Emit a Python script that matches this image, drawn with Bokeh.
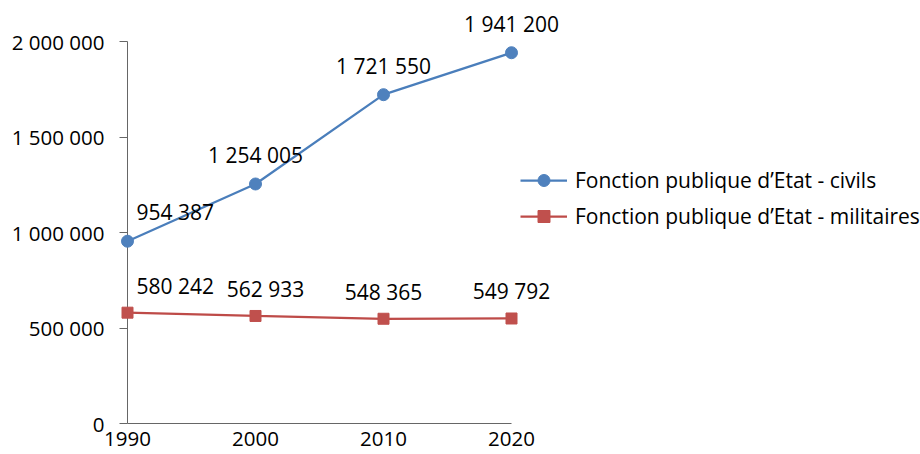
from bokeh.plotting import figure
from bokeh.models import (ColumnDataSource, Legend, LegendItem,
                          FixedTicker, Range1d)
from bokeh.core.properties import value
from bokeh.embed import file_html
from bokeh.resources import INLINE

years = [1990, 2000, 2010, 2020]
civils = [954387, 1254005, 1721550, 1941200]
militaires = [580242, 562933, 548365, 549792]
y_ticks = [0, 500000, 1000000, 1500000, 2000000]
y_tick_labels = ["0", "500 000", "1 000 000", "1 500 000", "2 000 000"]
series_names = ["Fonction publique d\u2019Etat - civils",
                "Fonction publique d\u2019Etat - militaires"]

FONT = "Open Sans"
FS = "20.5px"
FS_LAB = "21px"
BLUE = "#4F81BD"
BLUE_LINE = "#4A7EBB"
RED = "#C0504D"
RED_LINE = "#BE4B48"
AXIS = "#666666"

W, H = 920, 454
LEFT, RIGHT_DATA, TOP, BOTTOM = 127, 511, 41, 423  # pixel layout of the data area

# the frame spans to the right edge so the legend is not clipped;
# extend the x range so that the last year still lands at RIGHT_DATA
span = years[-1] - years[0]
x_end = years[-1] + span * (W - RIGHT_DATA) / (RIGHT_DATA - LEFT)


def fmt(v):
    return f"{v:,}".replace(",", " ")


# label placement styles (screen pixels)
aligns = ["left", "center", "center", "center"]
xoffs_c = [9, 0, 0, 0]
xoffs_m = [9, 10, 0, 0]

src_c = ColumnDataSource(dict(x=years, y=civils, t=[fmt(v) for v in civils],
                              a=aligns, xo=xoffs_c))
src_m = ColumnDataSource(dict(x=years, y=militaires, t=[fmt(v) for v in militaires],
                              a=aligns, xo=xoffs_m))

p = figure(width=W, height=H, output_backend="svg", toolbar_location=None,
           x_range=Range1d(years[0], x_end), y_range=Range1d(y_ticks[0], y_ticks[-1]),
           min_border_left=LEFT, min_border_right=0, min_border_top=TOP,
           min_border_bottom=H - BOTTOM)
p.outline_line_color = None
p.xgrid.visible = False
p.ygrid.visible = False
p.background_fill_color = "white"
p.border_fill_color = "white"

# axes
p.yaxis.ticker = FixedTicker(ticks=y_ticks)
p.yaxis.major_label_overrides = {t: l for t, l in zip(y_ticks, y_tick_labels)}
p.yaxis.major_tick_out = 8
p.yaxis.major_tick_in = 0
p.yaxis.minor_tick_out = 0
p.yaxis.minor_tick_in = 0
p.yaxis.major_label_standoff = 15
p.xaxis.ticker = FixedTicker(ticks=years)
p.xaxis.bounds = (years[0], years[-1])
p.xaxis.major_tick_out = 0
p.xaxis.major_tick_in = 0
p.xaxis.minor_tick_out = 0
p.xaxis.minor_tick_in = 0
p.xaxis.major_label_standoff = 8
for ax in (p.xaxis, p.yaxis):
    ax.axis_line_color = AXIS
    ax.major_tick_line_color = AXIS
    ax.major_label_text_font = FONT
    ax.major_label_text_font_size = FS
    ax.major_label_text_color = "black"

l1 = p.line("x", "y", source=src_c, line_color=BLUE_LINE, line_width=2.25, level="overlay")
s1 = p.scatter("x", "y", source=src_c, marker="circle", size=12,
               fill_color=BLUE, line_color=BLUE, level="overlay")
l2 = p.line("x", "y", source=src_m, line_color=RED_LINE, line_width=2.25, level="overlay")
s2 = p.scatter("x", "y", source=src_m, marker="square", size=11,
               fill_color=RED, line_color=RED, level="overlay")

for src, yo in ((src_c, 29), (src_m, 27)):
    p.text(x="x", y="y", text="t", source=src, x_offset="xo", y_offset=-yo,
           text_align="a", text_baseline="middle",
           text_font=value(FONT), text_font_size=value(FS_LAB),
           text_color="black", level="overlay")

legend = Legend(items=[LegendItem(label=series_names[0], renderers=[l1, s1]),
                       LegendItem(label=series_names[1], renderers=[l2, s2])],
                location=(393, 192), glyph_width=47, glyph_height=30,
                label_height=20, label_standoff=8, spacing=6,
                padding=0, margin=0, border_line_color=None,
                background_fill_alpha=0,
                label_text_font=FONT, label_text_font_size=FS_LAB,
                label_text_color="black")
p.add_layout(legend)

open("out.html", "w").write(file_html(p, INLINE))
